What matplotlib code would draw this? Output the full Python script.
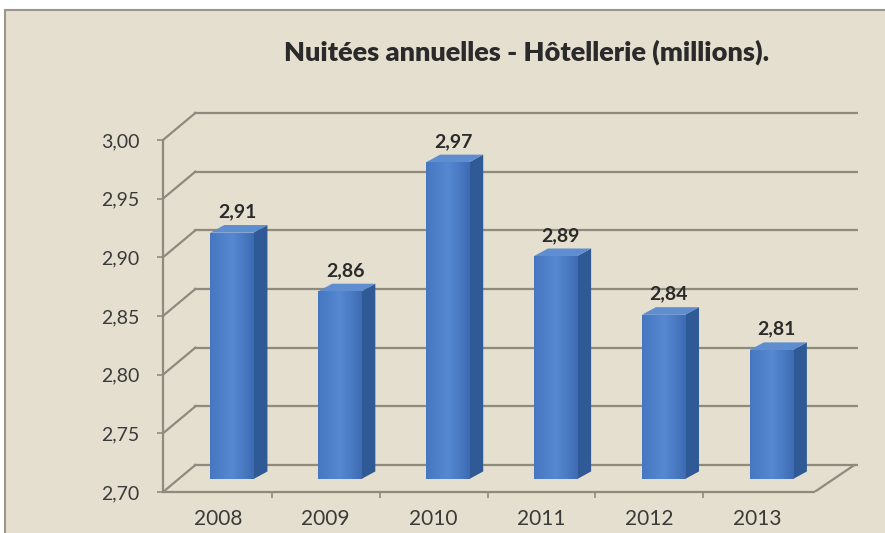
import numpy as np
import matplotlib
matplotlib.use("Agg")
import matplotlib.pyplot as plt
from matplotlib.patches import Rectangle, Polygon
from matplotlib.colors import LinearSegmentedColormap

plt.rcParams['font.family'] = ['Lato', 'DejaVu Sans']

# Nuitées annuelles en hôtellerie (millions)
years = ['2008', '2009', '2010', '2011', '2012', '2013']
nights = [2.91, 2.86, 2.97, 2.89, 2.84, 2.81]
labels = ['2,91', '2,86', '2,97', '2,89', '2,84', '2,81']
yticks = [2.70, 2.75, 2.80, 2.85, 2.90, 2.95, 3.00]

bg = '#E5DFCF'
grid_c = '#8E8A7D'
txt_c = '#2A2A2A'

fig = plt.figure(figsize=(8.85, 5.33), dpi=100)
fig.patch.set_facecolor('white')
# beige chart area with a thin darker frame
fig.patches.append(Rectangle((5 / 885, -0.01), 1.0, 1 - 10 / 533 + 0.01,
                             transform=fig.transFigure, facecolor=bg,
                             edgecolor='#9A968C', linewidth=1.5, zorder=-1))

W, H = 885, 533
x0, x1 = -0.638, 5.80
y0, y1 = 2.70, 3.035
ax = fig.add_axes([163 / W, 1 - 492 / H, (857.6 - 163) / W, (492 - 98.9) / H])
ax.set_xlim(x0, x1)
ax.set_ylim(y0, y1)
ax.set_facecolor('none')

# depth of the 3D box (data units)
ddx, ddy = 0.30, 0.023
x_floor_end = 5.40

# back wall grid and diagonal connectors
for v in yticks:
    ax.plot([x0, x0 + ddx], [v, v + ddy], color=grid_c, lw=1.6, zorder=1)
    ax.plot([x0 + ddx, x1], [v + ddy, v + ddy], color=grid_c, lw=1.6, zorder=1)
# floor outline
ax.plot([x_floor_end, x_floor_end + 0.37], [y0, y0 + ddy], color=grid_c, lw=1.6, zorder=1)

# bars drawn as front, side and top faces
bw = 0.2
sdx, sdy = 0.13, 0.0065
off = 0.011
cmap = LinearSegmentedColormap.from_list('front', ['#4677C0', '#5689D2', '#3E6CB4'])
grad = np.linspace(0, 1, 64).reshape(1, -1)
for i, v in enumerate(nights):
    b = y0 + off
    t = v + off
    front = Rectangle((i - bw, b), 2 * bw, t - b, facecolor='#4A7BC3',
                      edgecolor='none', zorder=3)
    ax.add_patch(front)
    img = ax.imshow(grad, extent=(i - bw, i + bw, b, t), aspect='auto',
                    cmap=cmap, zorder=3.1)
    img.set_clip_path(front)
    ax.add_patch(Polygon([(i + bw, b), (i + bw + sdx, b + sdy),
                          (i + bw + sdx, t + sdy), (i + bw, t)],
                         facecolor='#2F5A96', edgecolor='none', zorder=3))
    ax.add_patch(Polygon([(i - bw, t), (i + bw, t), (i + bw + sdx, t + sdy),
                          (i - bw + sdx, t + sdy)],
                         facecolor='#5E8DD0', edgecolor='none', zorder=3))
    ax.text(i + 0.05, t + sdy + 0.004, labels[i], ha='center', va='bottom',
            fontsize=14, fontweight='bold', color=txt_c, zorder=4)

# axes: front vertical axis and floor front edge
for s in ['top', 'right']:
    ax.spines[s].set_visible(False)
ax.spines['left'].set_bounds(2.70, 3.00)
ax.spines['bottom'].set_bounds(x0, x_floor_end)
for s in ['left', 'bottom']:
    ax.spines[s].set_color(grid_c)
    ax.spines[s].set_linewidth(1.6)

ax.set_yticks(yticks)
ax.set_yticklabels([f'{v:.2f}'.replace('.', ',') for v in yticks])
ax.tick_params(axis='y', direction='out', length=4, width=1.2, color=grid_c,
               pad=13, labelsize=14, labelcolor='#3A3A3A')

ax.set_xticks([i - 0.13 for i in range(len(years))])
ax.set_xticklabels(years)
ax.set_xticks([i + 0.37 for i in range(len(years) - 1)], minor=True)
ax.tick_params(axis='x', which='major', length=0, pad=12, labelsize=15,
               labelcolor='#3A3A3A')
ax.tick_params(axis='x', which='minor', direction='out', length=4, width=1.2,
               color=grid_c)

fig.text(527 / W, 1 - 52 / H, 'Nuitées annuelles - Hôtellerie (millions).',
         ha='center', va='center', fontsize=19.5, fontweight='heavy', color=txt_c)

fig.savefig('out.png', dpi=100, facecolor=fig.get_facecolor())
